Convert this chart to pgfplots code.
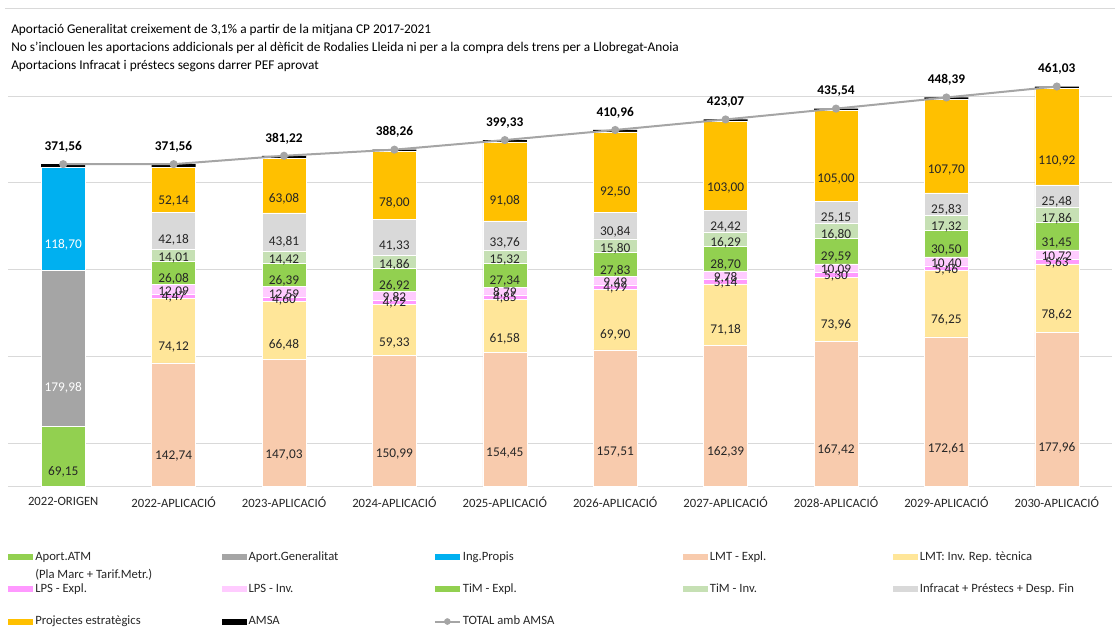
\documentclass[border=0pt]{standalone}
\usepackage{pgfplots}
\pgfplotsset{compat=1.18}
\usepackage{pgfplotstable}
\usepackage{fontspec}
\setmainfont{Carlito}

\definecolor{cATM}{HTML}{92D050}
\definecolor{cGen}{HTML}{A5A5A5}
\definecolor{cIng}{HTML}{00B0F0}
\definecolor{cLMTe}{HTML}{F8CBAD}
\definecolor{cLMTi}{HTML}{FFE699}
\definecolor{cLPSe}{HTML}{FF99FF}
\definecolor{cLPSi}{HTML}{FFCCFF}
\definecolor{cTiMe}{HTML}{92D050}
\definecolor{cTiMi}{HTML}{C6E0B4}
\definecolor{cInf}{HTML}{D9D9D9}
\definecolor{cProj}{HTML}{FFC000}
\definecolor{cGrid}{HTML}{D9D9D9}
\definecolor{cTxt}{HTML}{262626}

% values in M EUR, one row per category
\pgfplotstableread{
x atm gen ing lmte lmti lpse lpsi time timi inf proj amsa total
0 69.15 179.98 118.70 0 0 0 0 0 0 0 0 3.73 371.56
1 0 0 0 142.74 74.12 4.47 12.09 26.08 14.01 42.18 52.14 3.73 371.56
2 0 0 0 147.03 66.48 4.60 12.59 26.39 14.42 43.81 63.08 2.82 381.22
3 0 0 0 150.99 59.33 4.72 9.82 26.92 14.86 41.33 78.00 2.29 388.26
4 0 0 0 154.45 61.58 4.85 8.79 27.34 15.32 33.76 91.08 2.16 399.33
5 0 0 0 157.51 69.90 4.99 9.49 27.83 15.80 30.84 92.50 2.10 410.96
6 0 0 0 162.39 71.18 5.14 9.78 28.70 16.29 24.42 103.00 2.17 423.07
7 0 0 0 167.42 73.96 5.30 10.09 29.59 16.80 25.15 105.00 2.23 435.54
8 0 0 0 172.61 76.25 5.46 10.40 30.50 17.32 25.83 107.70 2.32 448.39
9 0 0 0 177.96 78.62 5.63 10.72 31.45 17.86 25.48 110.92 2.39 461.03
}\datatable

% 325.5pt for 500 units -> 0.651pt per unit (the shift is applied twice, hence 0.25)
\pgfplotsset{
  midlabel/.code={%
    \pgfkeys{/pgf/fpu=true,/pgf/fpu/output format=fixed}%
    \pgfmathsetmacro\labshift{-0.25*\pgfplotspointmeta*0.651}%
    \pgfkeys{/pgf/fpu=false}%
  },
  seglabel/.style={
    nodes near coords={\pgfmathfloatifflags{\pgfplotspointmeta}{0}{}{\pgfmathprintnumber{\pgfplotspointmeta}}},
    every node near coord/.append style={/pgfplots/midlabel, yshift=\labshift pt,
      anchor=center, font=\fontsize{10}{11}\selectfont, text=#1},
  },
  seglabel/.default=cTxt,
  common/.style={
    scale only axis, width=828pt, height=325.5pt,
    at={(0pt,0pt)}, anchor=south west,
    xmin=-0.5, xmax=9.5, ymin=0, ymax=500,
  },
}

\begin{document}
\begin{tikzpicture}
\path[use as bounding box] (-6pt,-104.5pt) rectangle (830.25pt,365pt);
\draw[cGrid, line width=0.75pt] (-2.25pt,358.3pt) -- (830.25pt,358.3pt);

\begin{axis}[
  common,
  ybar stacked,
  bar width=33pt,
  separate axis lines,
  axis x line*=bottom,
  axis y line*=left,
  x axis line style={cGrid, line width=0.75pt, -},
  y axis line style={draw=none},
  xtick={0,...,9},
  xticklabels={2022-ORIGEN,2022-APLICACIÓ,2023-APLICACIÓ,2024-APLICACIÓ,2025-APLICACIÓ,
    2026-APLICACIÓ,2027-APLICACIÓ,2028-APLICACIÓ,2029-APLICACIÓ,2030-APLICACIÓ},
  xticklabel style={font=\fontsize{9.5}{11}\selectfont, text=cTxt, yshift=-4.5pt},
  ytick={50,150,250,350,450},
  yticklabels={},
  major tick length=0pt,
  ymajorgrids,
  grid style={cGrid, line width=0.75pt},
  /pgf/number format/.cd, fixed, fixed zerofill, precision=2, use comma, 1000 sep={},
    assume math mode=true,
  /pgfplots/.cd,
  legend image code/.code={\fill[#1,draw=none] (0pt,-2.25pt) rectangle (18.75pt,2.25pt);},
  legend columns=5,
  legend cell align=left,
  legend style={
    at={(axis description cs:0,-0.1473)}, anchor=north west,
    draw=none, fill=none, inner sep=0pt,
    font=\fontsize{9.5}{11}\selectfont, text=cTxt,
    row sep=14.5pt,
    nodes={inner sep=0.75pt},
    /tikz/every odd column/.append style={column sep=0.75pt},
  },
]
\addplot[fill=cATM, draw=white, line width=0.4pt, seglabel] table[x=x, y=atm] {\datatable};
\addlegendentry{\makebox[139pt][l]{\rlap{\smash{\raisebox{-13.5pt}{(Pla Marc + Tarif.Metr.)}}}Aport.ATM}}
\addplot[fill=cGen, draw=white, line width=0.4pt, seglabel=white] table[x=x, y=gen] {\datatable};
\addlegendentry{\makebox[138.2pt][l]{Aport.Generalitat}}
\addplot[fill=cIng, draw=white, line width=0.4pt, seglabel=white] table[x=x, y=ing] {\datatable};
\addlegendentry{\makebox[164.3pt][l]{Ing.Propis}}
\addplot[fill=cLMTe, draw=white, line width=0.4pt, seglabel] table[x=x, y=lmte] {\datatable};
\addlegendentry{\makebox[136.5pt][l]{LMT - Expl.}}
\addplot[fill=cLMTi, draw=white, line width=0.4pt, seglabel] table[x=x, y=lmti] {\datatable};
\addlegendentry{LMT: Inv. Rep. tècnica}
\addplot[fill=cLPSe, draw=white, line width=0.4pt, seglabel] table[x=x, y=lpse] {\datatable};
\addlegendentry{LPS - Expl.}
\addplot[fill=cLPSi, draw=white, line width=0.4pt, seglabel] table[x=x, y=lpsi] {\datatable};
\addlegendentry{LPS - Inv.}
\addplot[fill=cTiMe, draw=white, line width=0.4pt, seglabel] table[x=x, y=time] {\datatable};
\addlegendentry{TiM - Expl.}
\addplot[fill=cTiMi, draw=white, line width=0.4pt, seglabel] table[x=x, y=timi] {\datatable};
\addlegendentry{TiM - Inv.}
\addplot[fill=cInf, draw=white, line width=0.4pt, seglabel] table[x=x, y=inf] {\datatable};
\addlegendentry{Infracat + Préstecs + Desp. Fin}
\addplot[fill=cProj, draw=white, line width=0.4pt, seglabel] table[x=x, y=proj] {\datatable};
\addlegendentry{Projectes estratègics}
\addplot[fill=black, draw=none] table[x=x, y=amsa] {\datatable};
\addlegendentry{AMSA}
\addlegendimage{legend image code/.code={\draw[cGen,line width=1.5pt] (0pt,0pt) -- (18.75pt,0pt); \fill[cGen] (9.375pt,0pt) circle (2.25pt);}}
\addlegendentry{TOTAL amb AMSA}
\end{axis}

\begin{axis}[
  common,
  hide axis,
  /pgf/number format/.cd, fixed, fixed zerofill, precision=2, use comma, 1000 sep={},
    assume math mode=true,
  /pgfplots/.cd,
]
\addplot[cGen, line width=1.5pt, mark=*, mark size=2.25pt, mark options={fill=cGen, draw=cGen},
  nodes near coords,
  every node near coord/.append style={anchor=base, yshift=10.3pt, text=black,
    font=\fontsize{10}{12}\selectfont\bfseries}]
  table[x=x, y=total] {\datatable};
\end{axis}

\node[anchor=west, font=\fontsize{10}{12}\selectfont, text=black, inner sep=0pt] at (2.25pt,342.5pt)
  {Aportació Generalitat creixement de 3,1\% a partir de la mitjana CP 2017-2021};
\node[anchor=west, font=\fontsize{10}{12}\selectfont, text=black, inner sep=0pt] at (2.25pt,329pt)
  {No s'inclouen les aportacions addicionals per al dèficit de Rodalies Lleida ni per a la compra dels trens per a Llobregat-Anoia};
\node[anchor=west, font=\fontsize{10}{12}\selectfont, text=black, inner sep=0pt] at (2.25pt,315.5pt)
  {Aportacions Infracat i préstecs segons darrer PEF aprovat};
\end{tikzpicture}
\end{document}
